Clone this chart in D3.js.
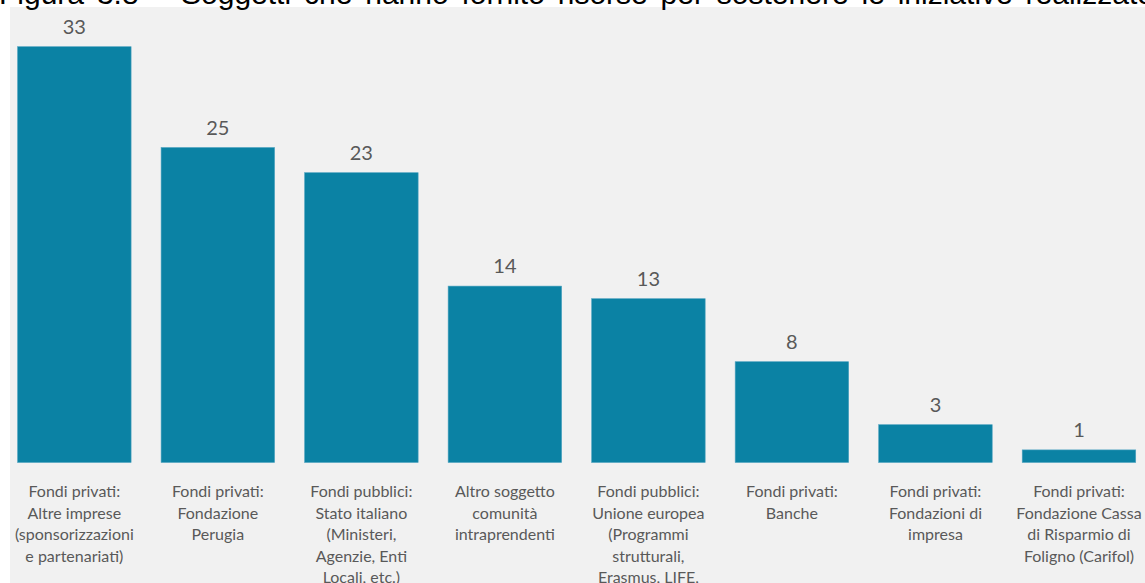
<!DOCTYPE html>
<html lang="it">
<head>
<meta charset="utf-8">
<script src="https://cdn.jsdelivr.net/npm/d3@7"></script>
<style>
  html, body { margin: 0; padding: 0; background: #ffffff; }
  svg { display: block; }
</style>
</head>
<body>
<div id="chart"></div>
<script>
// Data
const titleText =
  "Figura 3.8 – Soggetti che hanno fornito risorse per sostenere le iniziative realizzate";

const categories = [
  "Fondi privati:\nAltre imprese\n(sponsorizzazioni\ne partenariati)",
  "Fondi privati:\nFondazione\nPerugia",
  "Fondi pubblici:\nStato italiano\n(Ministeri,\nAgenzie, Enti\nLocali, etc.)",
  "Altro soggetto\ncomunità\nintraprendenti",
  "Fondi pubblici:\nUnione europea\n(Programmi\nstrutturali,\nErasmus, LIFE,\necc.)",
  "Fondi privati:\nBanche",
  "Fondi privati:\nFondazioni di\nimpresa",
  "Fondi privati:\nFondazione Cassa\ndi Risparmio di\nFoligno (Carifol)",
];

const values = [33, 25, 23, 14, 13, 8, 3, 1];

const BAR_COLOUR = "#0b82a4";
const BAR_EDGE = "#4fa3c0";
const TEXT_COLOUR = "#595959";
const PANEL_COLOUR = "#f1f1f1";

/**
 * @function drawChart
 * @description Bar chart of funding sources
 */
function drawChart() {
  const width = 1145;
  const height = 583;
  const baseY = 462.5;
  const lineHeight = 21.5;

  const svg = d3
    .select("#chart")
    .append("svg")
    .attr("width", width)
    .attr("height", height)
    .attr("viewBox", `0 0 ${width} ${height}`);

  // Panel background
  svg
    .append("rect")
    .attr("x", 10)
    .attr("y", 7)
    .attr("width", width)
    .attr("height", height)
    .attr("fill", PANEL_COLOUR);

  // Title (cut off at the top, justified)
  const title = svg
    .append("text")
    .attr("x", -1)
    .attr("y", 3.5)
    .style("font-family", "'Liberation Sans', Arial, sans-serif")
    .style("font-size", "30px")
    .attr("fill", "#000")
    .text(titleText);
  const natural = title.node().getComputedTextLength();
  const spaces = titleText.split(" ").length - 1;
  title.style("word-spacing", `${Math.max(0, (1155 - natural) / spaces)}px`);

  // Scales
  const xScale = d3
    .scaleBand()
    .domain(categories)
    .range([2.5, 1150.8])
    .paddingInner(0.209)
    .paddingOuter(0.105);

  const yScale = d3
    .scaleLinear()
    .domain([0, d3.max(values)])
    .range([baseY, baseY - 12.6 * d3.max(values)]);

  const data = categories.map((c, i) => ({ category: c, value: values[i] }));

  // Bars
  svg
    .selectAll(".bar")
    .data(data)
    .join("rect")
    .attr("class", "bar")
    .attr("x", (d) => xScale(d.category))
    .attr("y", (d) => yScale(d.value))
    .attr("width", xScale.bandwidth())
    .attr("height", (d) => yScale(0) - yScale(d.value))
    .attr("fill", BAR_COLOUR)
    .attr("stroke", BAR_EDGE)
    .attr("stroke-width", 0.6);

  // Value labels
  svg
    .selectAll(".value-label")
    .data(data)
    .join("text")
    .attr("class", "value-label")
    .attr("x", (d) => xScale(d.category) + xScale.bandwidth() / 2)
    .attr("y", (d) => yScale(d.value) - 13)
    .attr("text-anchor", "middle")
    .style("font-family", "Lato, 'Open Sans', sans-serif")
    .style("font-size", "20px")
    .attr("fill", TEXT_COLOUR)
    .text((d) => d.value);

  // Category labels
  svg
    .selectAll(".cat-label")
    .data(data)
    .join("text")
    .attr("class", "cat-label")
    .attr("text-anchor", "middle")
    .style("font-family", "Lato, 'Open Sans', sans-serif")
    .style("font-size", "16px")
    .attr("fill", TEXT_COLOUR)
    .each(function (d) {
      const cx = xScale(d.category) + xScale.bandwidth() / 2;
      d3.select(this)
        .selectAll("tspan")
        .data(d.category.split("\n"))
        .join("tspan")
        .attr("x", cx)
        .attr("y", (line, i) => 497 + i * lineHeight)
        .text((line) => line);
    });
}

drawChart();
</script>
</body>
</html>
